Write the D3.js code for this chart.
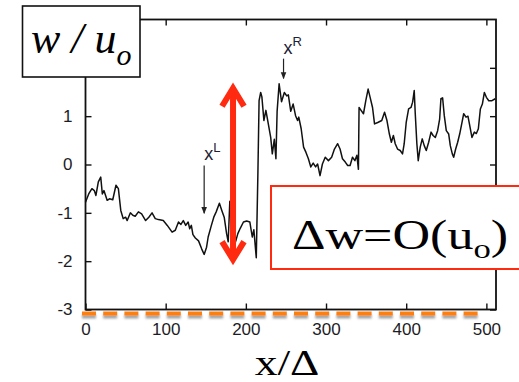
<!DOCTYPE html>
<html><head><meta charset="utf-8">
<script src="https://cdn.jsdelivr.net/npm/d3@7"></script>
<style>
  body{margin:0;background:#fff}
  svg{display:block}
  .tick text{font-family:"Liberation Sans",Arial,sans-serif;font-size:17px;fill:#1c1c24}
  .tick line{stroke:#111;stroke-width:1.4}
</style>
</head><body>
<svg id="chart" width="519" height="382"></svg>
<script>
// Streamwise position x/Δ and vertical velocity w/u_o sampled along the trace
const xPos = [0,4,8,11,13,16,19,21,23,27,30,34,38,41,44,47,50,52,56,59,62,66,70,75,79,83,87,91,97,102,108,112,116,119,122,125,128,130,132,134,137,141,145,148,151,153,157,160,163,167,170,173,176,178,180,182,185,188,190,193,197,201,205,208,210,213,215,216.5,218.5,220,222.5,225,228,231,233,235.5,237.5,239,241.5,244.5,248,251,253,256,259,262,264.5,266,269,272,275,278,281,284,287,289.5,292.5,295.5,299,303,307,310.5,314.5,317.5,320.5,324,327,330,333,336,338.5,340.4,341.2,343.7,346.7,349.6,352.5,355,358,360.5,364.5,369.5,373,376,379,381.5,384,386.3,389.2,392.5,395.4,397.5,400,403,406,408,410,411.3,413.3,415,417.5,420,422.5,425,428,431,433.5,436.3,439.2,441.7,443.3,445.4,447.5,450,453,455,457.5,459.2,461.7,464.2,466.7,469.6,471.7,474.6,477,479.2,482,485,487.5,490,492.5,495,497.5,500,503,507,511];
const wVal = [-0.78,-0.61,-0.50,-0.54,-0.64,-0.36,-0.26,-0.61,-0.54,-0.74,-0.71,-0.73,-0.43,-0.50,-0.95,-1.12,-1.09,-1.16,-1.00,-1.05,-1.07,-0.98,-1.02,-1.16,-1.09,-1.00,-1.12,-1.14,-1.16,-1.26,-1.40,-1.36,-1.19,-1.24,-1.16,-1.26,-1.19,-1.33,-1.26,-1.45,-1.52,-1.58,-1.75,-1.86,-1.71,-1.50,-1.26,-1.09,-0.98,-0.80,-0.95,-1.09,-1.43,-1.60,-0.76,-1.30,-1.70,-1.55,-1.43,-1.32,-1.19,-1.17,-1.19,-1.50,-1.35,-1.93,-0.20,1.32,1.49,1.40,0.91,1.12,0.84,0.56,0.22,0.52,0.12,1.10,1.67,1.30,1.49,1.42,1.44,1.10,1.25,1.01,0.91,0.98,0.74,0.36,0.25,0.12,-0.05,0.03,-0.05,0.01,-0.23,0.01,0.15,0.08,0.15,0.32,0.43,0.32,0.12,0.05,-0.02,-0.02,0.15,0.08,0.19,-0.10,1.18,1.12,1.05,1.32,1.56,1.39,1.18,0.84,0.87,0.91,1.08,0.91,0.63,0.46,0.60,0.43,0.32,0.29,0.22,0.43,0.87,1.15,1.18,1.29,1.53,1.05,0.43,0.08,0.36,0.53,0.39,0.29,0.46,0.67,0.60,0.56,0.70,0.94,1.36,1.38,1.01,0.70,0.63,0.39,0.22,0.15,0.32,0.46,0.63,0.87,1.05,0.98,1.00,0.81,0.56,0.67,0.64,0.74,1.15,1.25,1.49,1.39,1.32,1.32,1.36];

const xTicks = [0,100,200,300,400,500];
const yTicks = [-3,-2,-1,0,1,2];
const yLabelled = [-3,-2,-1,0,1];
const xDomain = [0,512];
const yDomain = [-3,3];

// Front positions marked on the trace: [x, arrow start w, arrow tip w]
const frontL = [148, -0.02, -1.01];
const frontR = [247, 2.19, 1.78];
// Jump in w drawn as a double arrow: [x, low w, high w]
const jump = [184, -2.03, 1.64];

const svg = d3.select("#chart");
const W = +svg.attr("width"), H = +svg.attr("height");
const x = d3.scaleLinear().domain(xDomain).range([85.5, 496]);
const y = d3.scaleLinear().domain(yDomain).range([309.5, 19.5]);

const defs = svg.append("defs");
const shadow = defs.append("filter").attr("id","shadow").attr("filterUnits","userSpaceOnUse")
  .attr("x",0).attr("y",0).attr("width",W).attr("height",H);
shadow.append("feDropShadow").attr("dx",0).attr("dy",3).attr("stdDeviation",1.3)
  .attr("flood-color","#555").attr("flood-opacity",0.55);
defs.append("marker").attr("id","tip").attr("viewBox","0 0 10 10")
  .attr("refX",9).attr("refY",5).attr("markerWidth",7).attr("markerHeight",7)
  .attr("markerUnits","userSpaceOnUse").attr("orient","auto")
  .append("path").attr("d","M0,1 L10,5 L0,9 z").attr("fill","#222");

// axes with inward ticks on all four sides
const [x0,x1] = x.range(), [y0,y1] = y.range();
svg.append("g").attr("transform",`translate(0,${y0})`)
  .call(d3.axisBottom(x).tickValues(xTicks).tickSize(-6).tickPadding(13))
  .call(g=>g.select(".domain").remove());
svg.append("g").attr("transform",`translate(0,${y1})`)
  .call(d3.axisTop(x).tickValues(xTicks).tickSize(-6).tickFormat(""))
  .call(g=>g.select(".domain").remove());
svg.append("g").attr("transform",`translate(${x0},0)`)
  .call(d3.axisLeft(y).tickValues(yTicks).tickSize(-6).tickPadding(13)
    .tickFormat(d => yLabelled.includes(d) ? String(d) : ""))
  .call(g=>g.select(".domain").remove());
svg.append("g").attr("transform",`translate(${x1},0)`)
  .call(d3.axisRight(y).tickValues(yTicks).tickSize(-6).tickFormat(""))
  .call(g=>g.select(".domain").remove());

svg.append("rect").attr("x",x0).attr("y",y1).attr("width",x1-x0).attr("height",y0-y1)
  .attr("fill","none").attr("stroke","#111").attr("stroke-width",1.8);

// trace
const line = d3.line().x((d,i)=>x(xPos[i])).y(d=>y(d));
svg.append("path").datum(wVal).attr("d",line)
  .attr("fill","none").attr("stroke","#111").attr("stroke-width",1.5)
  .attr("stroke-linejoin","round");

// dashed floor line
svg.append("line").attr("x1",x0-3.5).attr("x2",x(494)).attr("y1",y0+4).attr("y2",y0+4)
  .attr("stroke","#ff7f0e").attr("stroke-width",4.2).attr("stroke-dasharray","14 7.2")
  .attr("filter","url(#shadow)");

// front markers
function front(f, sup){
  svg.append("line").attr("x1",x(f[0])).attr("x2",x(f[0]))
    .attr("y1",y(f[1])).attr("y2",y(f[2]))
    .attr("stroke","#222").attr("stroke-width",1.2).attr("marker-end","url(#tip)");
  const t = svg.append("text").attr("x",x(f[0])).attr("y",y(f[1])-5)
    .attr("font-family","Liberation Sans, Arial, sans-serif").attr("font-size",18)
    .attr("fill","#1c2034");
  t.append("tspan").text("x");
  t.append("tspan").attr("dy",-8).attr("font-size",13).text(sup);
}
front(frontL, "L");
front(frontR, "R");

// jump double arrow
const red = "#ff2a10";
const ax = x(jump[0]), ayTop = y(jump[2]), ayBot = y(jump[1]);
const ja = svg.append("g").attr("stroke",red).attr("stroke-width",6).attr("fill","none")
  .attr("stroke-linejoin","miter").attr("stroke-linecap","butt");
ja.append("line").attr("x1",ax).attr("x2",ax).attr("y1",ayTop+3).attr("y2",ayBot-3);
ja.append("path").attr("d",`M${ax-11},${ayTop+21} L${ax},${ayTop+3} L${ax+11},${ayTop+21}`);
ja.append("path").attr("d",`M${ax-11},${ayBot-21} L${ax},${ayBot-3} L${ax+11},${ayBot-21}`);

// magnitude box
svg.append("rect").attr("x",271).attr("y",186).attr("width",260).attr("height",83)
  .attr("fill","#fff").attr("stroke",red).attr("stroke-width",2);
const bt = svg.append("text").attr("transform","translate(292,249) scale(1.24,1)")
  .attr("font-family","Liberation Serif, Times New Roman, serif").attr("font-size",42).attr("fill","#000");
bt.append("tspan").text("\u0394w=O(u");
bt.append("tspan").attr("font-size",28).attr("dy",9).text("o");
bt.append("tspan").attr("dy",-9).text(")");

// y label box
svg.append("rect").attr("x",22.5).attr("y",6).attr("width",117.5).attr("height",71)
  .attr("fill","#fff").attr("stroke","#111").attr("stroke-width",1.6);
const yl = svg.append("text").attr("x",31).attr("y",53)
  .attr("font-family","Liberation Serif, Times New Roman, serif").attr("font-style","italic")
  .attr("font-size",44).attr("fill","#000");
yl.append("tspan").text("w / u");
yl.append("tspan").attr("font-size",30).attr("dy",12).text("o");

// x label
svg.append("text").attr("transform","translate(287,375) scale(1.3,1)").attr("text-anchor","middle")
  .attr("font-family","Liberation Serif, Times New Roman, serif").attr("font-size",35)
  .attr("fill","#000").text("x/\u0394");
</script>
</body></html>
